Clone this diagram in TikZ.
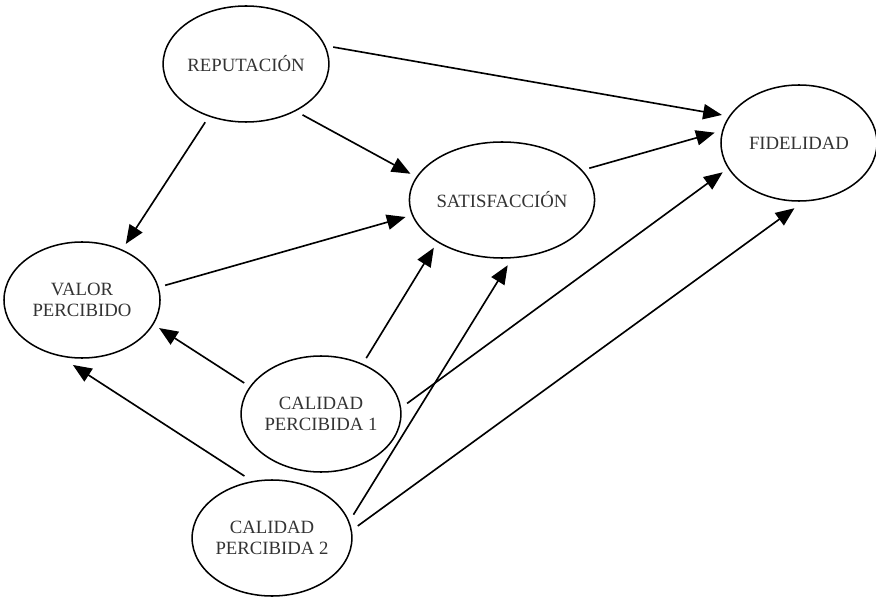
\documentclass[tikz,border=0pt]{standalone}
\usepackage{fontspec}
\setmainfont{Liberation Serif}
\usetikzlibrary{arrows.meta,shapes.geometric}

\tikzset{
  factor/.style={ellipse,draw,line width=1.3pt,minimum width=4.68cm,minimum height=3.48cm,
    inner sep=0pt,outer sep=.22cm,align=center,text=black!80,font=\fontsize{16}{17.5}\selectfont},
  link/.style={line width=1.4pt,-{Triangle[length=16pt,width=13pt]}}
}

\begin{document}
\begin{tikzpicture}[x=.03cm,y=-.03cm]
  \useasboundingbox (0,0) rectangle (876,600);
  % constructs
  \node[factor] (rep) at (246,64) {REPUTACIÓN};
  \node[factor] (fid) at (799,143) {FIDELIDAD};
  \node[factor] (sat) at (502,200) {SATISFACCIÓN};
  \node[factor] (val) at (82,300) {VALOR\\PERCIBIDO};
  \node[factor] (cp1) at (321,414) {CALIDAD\\PERCIBIDA 1};
  \node[factor] (cp2) at (272,538) {CALIDAD\\PERCIBIDA 2};

  % relations
  \draw[link] (rep.11) -- (fid.160);
  \draw[link] (rep.-42) -- (sat.164);
  \draw[link] (rep.-125) -- (val.52);
  \draw[link] (sat.20) -- (fid.173);
  \draw[link] (val.10) -- (sat.190);
  \draw[link] (cp1.158) -- (val.-20);
  \draw[link] (cp2.114) -- (val.-98);
  \draw[link] (cp1.51) -- (sat.215);
  \draw[link] (cp2.16) -- (sat.-85);
  \draw[link] (cp1.7) -- (fid.201);
  \draw[link] (cp2.8) -- (fid.266);
\end{tikzpicture}
\end{document}
